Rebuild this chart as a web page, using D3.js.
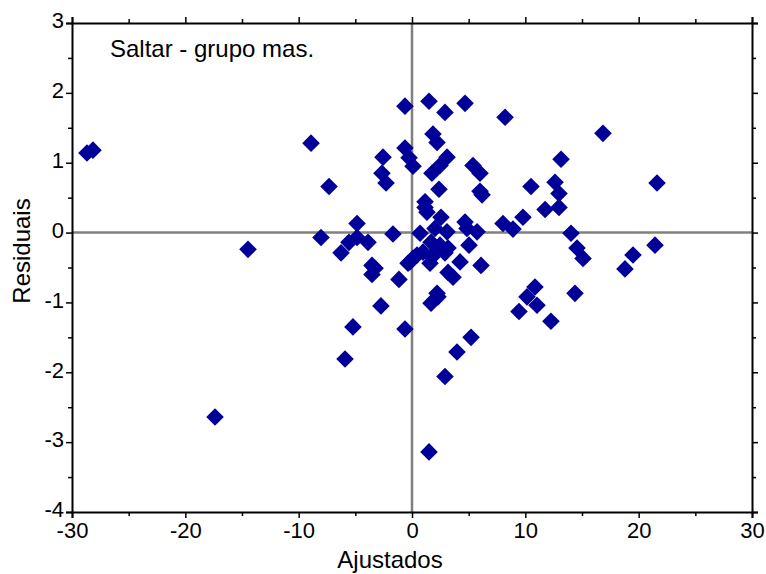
<!DOCTYPE html>
<html><head><meta charset="utf-8">
<script src="https://cdn.jsdelivr.net/npm/d3@7"></script>
<style>body{margin:0;background:#fff}</style>
</head><body>
<svg id="c" width="766" height="574"></svg>
<script>
const title = "Saltar - grupo mas.";
const xLabel = "Ajustados";
const yLabel = "Residuais";
const xTicks = [-30,-20,-10,0,10,20,30];
const yTicks = [-4,-3,-2,-1,0,1,2,3];
const fitted = [
 -28.68,-28.15,-17.38,-14.47,
 -8.91,-7.32,-8.03,-6.26,-5.91,-5.21,-4.85,-5.56,-4.85,-3.88,-3.53,-3.26,-3.53,-2.74,-2.56,-2.65,-2.29,-1.68,-1.15,-0.62,-0.62,-0.62,-0.26,0.09,
 1.50,2.91,4.68,1.85,2.21,3.09,2.47,1.76,5.38,6.00,2.38,6.00,6.18,1.15,1.15,1.32,2.56,4.68,4.85,5.74,0.71,2.03,3.09,
 -0.18,0.44,0.97,0.09,-0.35,1.59,1.76,2.29,2.91,3.18,1.68,2.47,4.24,5.03,6.09,3.18,3.62,2.21,2.29,1.68,5.21,3.97,2.91,1.50,
 8.21,16.85,13.15,10.50,12.62,12.97,12.97,11.74,9.79,8.03,8.91,21.62,14.03,14.56,15.09,19.50,18.79,21.44,10.85,10.15,11.03,9.44,12.26,14.38
];
const residuals = [
 1.14,1.18,-2.64,-0.24,
 1.28,0.66,-0.07,-0.29,-1.81,-1.35,0.13,-0.14,-0.07,-0.14,-0.47,-0.51,-0.60,-1.05,1.08,0.85,0.71,-0.02,-0.67,-1.38,1.81,1.21,1.07,0.95,
 1.88,1.72,1.85,1.41,1.29,1.08,0.96,0.85,0.96,0.85,0.62,0.59,0.54,0.44,0.36,0.29,0.22,0.15,0.06,0.01,-0.01,0.06,0.01,
 -0.42,-0.32,-0.28,-0.37,-0.44,-0.44,-0.35,-0.25,-0.29,-0.22,-0.14,-0.18,-0.42,-0.18,-0.47,-0.57,-0.64,-0.87,-0.92,-1.01,-1.50,-1.71,-2.06,-3.14,
 1.65,1.42,1.05,0.66,0.72,0.56,0.36,0.33,0.22,0.13,0.05,0.71,-0.01,-0.22,-0.37,-0.32,-0.52,-0.18,-0.78,-0.92,-1.04,-1.13,-1.27,-0.87
];

const svg = d3.select("#c");
const L=72,R=752,T=23,B=512;
const x = d3.scaleLinear().domain([-30,30]).range([L,R]);
const y = d3.scaleLinear().domain([-4,3]).range([B,T]);
const font = "'Liberation Sans', Arial, sans-serif";
const fmt = d => String(d);

// zero reference lines
svg.append("line").attr("x1",x(0)).attr("x2",x(0)).attr("y1",T).attr("y2",B)
  .attr("stroke","#808080").attr("stroke-width",2.5);
svg.append("line").attr("x1",L).attr("x2",R).attr("y1",y(0)).attr("y2",y(0))
  .attr("stroke","#808080").attr("stroke-width",2.5);

const xMinor = d3.range(-25,30,10);
const yMinor = d3.range(-3.5,3,1);

function styleAxis(g){
  g.select(".domain").attr("stroke","#000").attr("stroke-width",2);
  g.selectAll(".tick line").attr("stroke","#000").attr("stroke-width",1.5);
  g.selectAll("text").attr("font-family",font).attr("font-size",22).attr("fill","#000");
}
// bottom
svg.append("g").attr("transform",`translate(0,${B})`)
  .call(d3.axisBottom(x).tickValues(xTicks).tickSize(6).tickPadding(4).tickFormat(fmt))
  .call(styleAxis);
svg.append("g").attr("transform",`translate(0,${B})`)
  .call(d3.axisBottom(x).tickValues(xMinor).tickSize(4).tickFormat(""))
  .call(styleAxis).call(g=>g.select(".domain").remove());
// top
svg.append("g").attr("transform",`translate(0,${T})`)
  .call(d3.axisTop(x).tickValues(xTicks).tickSize(6).tickFormat(""))
  .call(styleAxis);
svg.append("g").attr("transform",`translate(0,${T})`)
  .call(d3.axisTop(x).tickValues(xMinor).tickSize(4).tickFormat(""))
  .call(styleAxis).call(g=>g.select(".domain").remove());
// left
svg.append("g").attr("transform",`translate(${L},0)`)
  .call(d3.axisLeft(y).tickValues(yTicks).tickSize(6).tickPadding(2).tickFormat(fmt))
  .call(styleAxis)
  .call(g=>g.selectAll(".tick text").attr("dy","0.22em"));
svg.append("g").attr("transform",`translate(${L},0)`)
  .call(d3.axisLeft(y).tickValues(yMinor).tickSize(4).tickFormat(""))
  .call(styleAxis).call(g=>g.select(".domain").remove());
// right
svg.append("g").attr("transform",`translate(${R},0)`)
  .call(d3.axisRight(y).tickValues(yTicks).tickSize(6).tickFormat(""))
  .call(styleAxis);
svg.append("g").attr("transform",`translate(${R},0)`)
  .call(d3.axisRight(y).tickValues(yMinor).tickSize(4).tickFormat(""))
  .call(styleAxis).call(g=>g.select(".domain").remove());

// points
const s = 8.8;
const diamond = `M0,${-s}L${s},0L0,${s}L${-s},0Z`;
svg.append("g").selectAll("path").data(fitted.map((f,i)=>[f,residuals[i]]))
  .join("path").attr("d",diamond)
  .attr("transform",d=>`translate(${x(d[0])},${y(d[1])})`)
  .attr("fill","#000099");

// texts
svg.append("text").attr("x",110).attr("y",57).text(title)
  .attr("font-family",font).attr("font-size",24).attr("fill","#000");
svg.append("text").attr("x",390).attr("y",568).attr("text-anchor","middle").text(xLabel)
  .attr("font-family",font).attr("font-size",24).attr("fill","#000");
svg.append("text").attr("transform","translate(30,251) rotate(-90)").attr("text-anchor","middle").text(yLabel)
  .attr("font-family",font).attr("font-size",24).attr("fill","#000");
</script>
</body></html>
